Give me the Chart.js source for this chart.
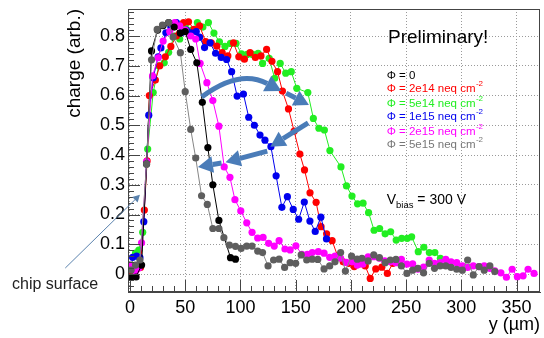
<!DOCTYPE html>
<html>
  <script src="https://cdn.jsdelivr.net/npm/chart.js"></script>
  <body style="margin:0">
    <canvas id="myChart" width="544" height="338"></canvas>

    <script>
      const ctx = document.getElementById('myChart');

      // tick positions
      const xTicks = [0, 50, 100, 150, 200, 250, 300, 350];
      const yTicks = [0, 0.1, 0.2, 0.3, 0.4, 0.5, 0.6, 0.7, 0.8];

      const labels = ["0", "2e14 neq cm", "5e14 neq cm", "1e15 neq cm", "2e15 neq cm", "5e15 neq cm"];
      const colors = ["#000000", "#ff0000", "#22ee22", "#0000ee", "#ff00ff", "#5e5e5e"];
      const lineColors = ["#000000", "#ff0000", "#22ee22", "#0000ee", "#ff00ff", "#858585"];

      // [y (um), charge]
      const phi0 = [[1,-0.01],[5.5,-0.01],[10.5,0.03],[15,0.37],[19.5,0.75],[25,0.82],[30,0.835],[35,0.845],[40,0.83],[45.5,0.81],
        [50,0.815],[55,0.755],[60.5,0.71],[65.5,0.577],[70.5,0.425],[75,0.30],[80.5,0.18],[91,0.055],[95.5,0.05]];

      const phi2e14 = [[1,0.0],[4,0.01],[7,0.019],[9.5,0.022],[13,0.215],[15.5,0.38],[17.5,0.60],[23,0.652],[27,0.70],[32,0.73],
        [37,0.765],[42,0.80],[45,0.81],[48.5,0.845],[53,0.848],[58,0.822],[63,0.834],[68.5,0.781],[73.6,0.777],[78.6,0.766],
        [83.5,0.744],[88.6,0.733],[93.7,0.777],[98.5,0.73],[103.6,0.722],[108.7,0.744],[113.5,0.728],[118.6,0.733],[123.7,0.755],
        [128.5,0.715],[133.6,0.68],[138,0.615],[143.5,0.555],[148.6,0.48],[153.8,0.403],[158,0.35],[163,0.273],[168.5,0.241],
        [173,0.159],[178,0.135],[183,0.112],[188,0.06],[193,0.041],[198,0.036],[203,0.025],[208,0.034],[213,0.027],[217.5,-0.015],
        [222.5,0.017],[228,0.023],[233,0.002],[238,0.036]];

      const phi5e14 = [[1,0.03],[5,0.07],[8,0.08],[11.5,0.14],[16,0.42],[21,0.61],[26,0.70],[31,0.71],[35,0.745],[40,0.80],
        [45,0.79],[50,0.835],[56,0.82],[61,0.845],[66,0.83],[71,0.845],[76,0.81],[81,0.78],[86,0.765],[91,0.775],[96,0.775],
        [101,0.74],[106,0.738],[111,0.738],[116,0.742],[120,0.708],[126,0.725],[131,0.658],[136,0.708],[141,0.675],[146,0.68],
        [151,0.624],[161,0.61],[166,0.523],[171,0.49],[176,0.484],[181,0.415],[191,0.36],[196,0.296],[201,0.262],[206,0.236],
        [211,0.238],[216,0.206],[221,0.147],[226,0.153],[231,0.135],[236,0.142],[241,0.114],[246,0.12],[251,0.12],[255,0.125],
        [261,0.075],[266,0.09],[271,0.072],[276,0.072],[281,0.053]];

      const phi1e15 = [[2.4,0.056],[6,0.06],[9,0.055],[12.5,0.176],[17,0.534],[21,0.66],[25.5,0.73],[28,0.76],[32.5,0.811],
        [37,0.83],[42,0.845],[46.5,0.811],[51,0.82],[55,0.811],[60,0.815],[63,0.796],[67.5,0.761],[72.5,0.777],[77.5,0.742],
        [82.6,0.728],[87.5,0.721],[92,0.68],[97,0.598],[102.7,0.605],[107.5,0.527],[112.6,0.50],[117.7,0.467],[122.2,0.45],
        [127.6,0.428],[132.3,0.33],[137.5,0.224],[142.5,0.26],[147.8,0.217],[152.7,0.184],[157.8,0.242],[162.9,0.178],
        [167.7,0.143],[172.8,0.191],[177.9,0.118]];

      const phi2e15 = [[1,0.03],[5,0.01],[8,0.02],[10.5,0.105],[15,0.378],[20.4,0.666],[25.5,0.727],[30,0.783],[36,0.815],
        [40.5,0.845],[45,0.834],[50,0.82],[55,0.80],[59.5,0.79],[63.5,0.708],[69.6,0.643],[75,0.583],[80.5,0.497],[85.3,0.36],
        [90.5,0.325],[95,0.25],[100.3,0.212],[105.7,0.172],[110.5,0.14],[115.6,0.121],[120.5,0.123],[125.5,0.103],[130.6,0.094],
        [135,0.112],[140.3,0.084],[145,0.081],[150.2,0.095],[155.6,0.066],[160.6,0.066],[165,0.072],[170.5,0.075],[175.7,0.07],
        [180.8,0.056],[185.6,0.06],[190.7,0.053],[195.8,0.039],[201,0.041],[205.7,0.03],[210.8,0.033],[215.6,0.058],[220.7,0.058],
        [225.8,0.053],[230.6,0.044],[235.8,0.041],[240.8,0.038],[245.7,0.049],[250.7,0.033],[255.9,0.034],[260.6,0.016],
        [265.8,0.023],[270.9,0.047],[275.7,0.036],[280.8,0.038],[285.9,0.049],[290.7,0.041],[295.8,0.038],[300.9,0.027],
        [305.7,0.022],[310.8,0.027],[316,0.025],[320.7,0.027],[325.8,0.019],[330.3,0.011],[335.8,0.004],[340.8,-0.011],
        [346,0.016],[350.7,-0.009],[355.9,-0.006],[360.4,0.016],[365.8,0.002]];

      const phi5e15 = [[1,0.013],[5,0.03],[9,0.047],[15,0.37],[19.5,0.72],[24.6,0.822],[29.4,0.837],[35,0.845],[39,0.797],
        [45.6,0.744],[50,0.613],[55,0.486],[59.5,0.39],[64.8,0.263],[70,0.234],[75,0.153],[80.5,0.153],[85,0.122],[90,0.097],
        [95.5,0.093],[100.6,0.086],[105.7,0.094],[110.5,0.094],[115.6,0.077],[120,0.072],[125,0.027],[130,0.047],[135,0.05],
        [140,0.022],[145,0.038],[150,0.036],[155,0.064],[160,0.047],[165,0.05],[170,0.049],[175.7,0.017],[180.8,0.027],
        [185.6,0.041],[190.7,0.072],[195,0.01],[200.6,0.06],[205.7,0.05],[210,0.053],[215.6,0.044],[220.7,0.064],[225.8,0.055],
        [231,0.038],[235.7,0.047],[240.8,0.049],[245.7,0.027],[250.7,0.002],[255.9,0.013],[260.6,0.019],[265.8,0.004],
        [270.9,0.036],[275.7,0.019],[280.8,0.027],[285.9,0.027],[290.7,0.022],[295.8,0.016],[300.9,0.013],[305.7,0.047],
        [310.8,-0.003],[316,0.025],[320.7,0.013],[325.8,0.027],[330.3,0.008]];

      const series = [phi0, phi2e14, phi5e14, phi1e15, phi2e15, phi5e15];
      const drawOrder = [1, 4, 5, 3, 2, 0];

      const FONT = "'Liberation Sans', Arial, sans-serif";
      const ARROW = "#4a7cb8";

      function drawArrow(c, pts, w, head, color) {
        // pts: start, [control], end in pixels
        const s = pts[0], e = pts[pts.length - 1];
        const prev = pts.length === 3 ? pts[1] : s;
        const ang = Math.atan2(e[1] - prev[1], e[0] - prev[0]);
        const bx = e[0] - head * Math.cos(ang), by = e[1] - head * Math.sin(ang);
        c.save();
        c.strokeStyle = color; c.fillStyle = color; c.lineWidth = w;
        c.beginPath();
        c.moveTo(s[0], s[1]);
        if (pts.length === 3) c.quadraticCurveTo(pts[1][0], pts[1][1], bx, by);
        else c.lineTo(bx, by);
        c.stroke();
        c.beginPath();
        c.moveTo(e[0], e[1]);
        c.lineTo(bx + head * 0.55 * Math.sin(ang), by - head * 0.55 * Math.cos(ang));
        c.lineTo(bx - head * 0.55 * Math.sin(ang), by + head * 0.55 * Math.cos(ang));
        c.closePath();
        c.fill();
        c.restore();
      }

      const notes = {
        id: 'notes',
        afterDraw(chart) {
          const c = chart.ctx, a = chart.chartArea;
          const x = chart.scales.x, y = chart.scales.y;
          const P = (u, v) => [x.getPixelForValue(u), y.getPixelForValue(v)];
          c.save();
          // frame
          c.strokeStyle = '#444'; c.lineWidth = 1;
          c.strokeRect(a.left + 0.5, a.top + 0.5, a.right - a.left - 1, a.bottom - a.top - 1);
          // ticks inside the frame
          c.beginPath();
          for (let v = -0.06; v <= 0.885; v += 0.02) {
            const major = Math.abs(v * 10 - Math.round(v * 10)) < 1e-6;
            const yy = Math.round(y.getPixelForValue(v)) + 0.5;
            c.moveTo(a.left, yy); c.lineTo(a.left + (major ? 12 : 6), yy);
          }
          for (let v = 0; v <= 370; v += 10) {
            const major = v % 50 === 0;
            const xx = Math.round(x.getPixelForValue(v)) + 0.5;
            c.moveTo(xx, a.bottom); c.lineTo(xx, a.bottom - (major ? 12 : 6));
          }
          c.stroke();

          // big arrows
          drawArrow(c, [P(64.9, 0.595), P(99, 0.69), P(137, 0.615)], 5, 16, ARROW);
          drawArrow(c, [P(141.4, 0.608), P(162, 0.568)], 5, 15, ARROW);
          drawArrow(c, [P(161.3, 0.508), P(127, 0.428)], 5, 15, ARROW);
          drawArrow(c, [P(124.3, 0.413), P(86.5, 0.376)], 5, 15, ARROW);
          drawArrow(c, [P(82.9, 0.373), P(61.5, 0.36)], 5, 15, ARROW);
          // chip surface pointer
          drawArrow(c, [P(-58.6, 0.02), P(9, 0.266)], 1, 7, "#5a82ad");

          c.textBaseline = 'middle';
          c.fillStyle = '#222';
          c.font = "16px " + FONT;
          c.textAlign = 'left';
          c.fillText("chip surface", 12, 285);

          c.fillStyle = '#000';
          c.textAlign = 'center';
          c.font = "19px " + FONT;
          const pr = P(279, 0.793);
          c.fillText("Preliminary!", pr[0], pr[1]);

          // legend
          c.textAlign = 'left';
          const ly = [0.666, 0.622, 0.573, 0.528, 0.479, 0.433];
          labels.forEach((t, i) => {
            const p = P(232.4, ly[i]);
            c.fillStyle = i === 5 ? '#777' : colors[i];
            c.font = "11.5px " + FONT;
            const s = "\u03A6 = " + t;
            c.fillText(s, p[0], p[1]);
            if (i > 0) {
              const w = c.measureText(s).width;
              c.font = "8px " + FONT;
              c.fillText("-2", p[0] + w + 0.5, p[1] - 5);
            }
          });

          // bias label
          const vb = P(232.4, 0.249);
          c.fillStyle = '#000';
          c.font = "14px " + FONT;
          c.fillText("V", vb[0], vb[1]);
          let w = c.measureText("V").width;
          c.font = "9.5px " + FONT;
          c.fillText("bias", vb[0] + w, vb[1] + 5);
          w += c.measureText("bias").width;
          c.font = "14px " + FONT;
          c.fillText(" = 300 V", vb[0] + w, vb[1]);
          c.restore();
        }
      };

      new Chart(ctx, {
        type: "scatter",
        data: {
          datasets: series.map(function (d, i) {
            return {
              label: labels[i],
              data: d.map(function (p) { return { x: p[0], y: p[1] }; }),
              showLine: true,
              borderColor: lineColors[i],
              backgroundColor: colors[i],
              borderWidth: 1,
              pointRadius: 3.6,
              pointBorderWidth: 0,
              order: drawOrder[i],
            };
          }),
        },
        options: {
          responsive: false,
          animation: false,
          devicePixelRatio: 1,
          layout: { padding: { left: 63, right: 2, top: 9, bottom: 0 } },
          plugins: {
            legend: { display: false },
            tooltip: { enabled: false },
          },
          scales: {
            x: {
              type: "linear",
              min: -1.8,
              max: 371.2,
              afterBuildTicks: function (s) { s.ticks = xTicks.map(function (v) { return { value: v }; }); },
              afterFit: function (s) { s.height = 46; s.paddingLeft = 0; s.paddingRight = 0; },
              ticks: {
                font: { family: FONT, size: 18 },
                color: '#000',
                padding: 5,
                maxRotation: 0,
                autoSkip: false,
                callback: function (v) { return String(v); },
              },
              grid: { color: '#9a9a9a', drawTicks: false },
              border: { display: true, color: '#444', dash: [1, 2] },
              title: {
                display: true,
                text: 'y (\u00B5m)',
                align: 'end',
                color: '#000',
                font: { family: FONT, size: 18 },
                padding: { top: 0, bottom: 2 },
              },
            },
            y: {
              type: "linear",
              min: -0.0605,
              max: 0.8908,
              afterBuildTicks: function (s) { s.ticks = yTicks.map(function (v) { return { value: v }; }); },
              afterFit: function (s) { s.width = 65; s.paddingTop = 0; s.paddingBottom = 0; },
              ticks: {
                font: { family: FONT, size: 18 },
                color: '#000',
                padding: 3,
                autoSkip: false,
                callback: function (v) { return v === 0 ? "0" : v.toFixed(1); },
              },
              grid: { color: '#9a9a9a', drawTicks: false },
              border: { display: true, color: '#444', dash: [1, 2] },
              title: {
                display: true,
                text: 'charge (arb.)',
                align: 'end',
                color: '#000',
                font: { family: FONT, size: 19 },
                padding: { top: 0, bottom: 0 },
              },
            },
          },
        },
        plugins: [notes],
      });
    </script>
  </body>
</html>
